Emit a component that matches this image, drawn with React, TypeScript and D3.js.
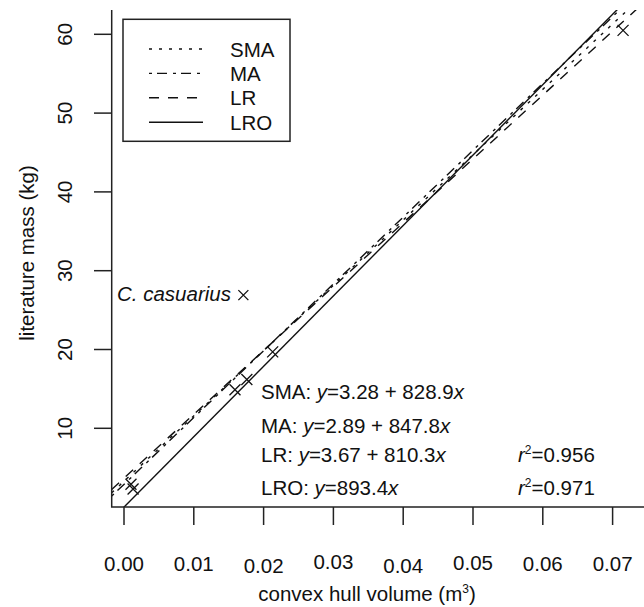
import React from "react";
import * as d3 from "d3";

const W = 644;
const H = 607;

// data
const pointX = [0.001, 0.0013, 0.0159, 0.0176, 0.0213, 0.0715];
const pointY = [2.9, 2.3, 14.9, 16.2, 19.7, 60.5];
const casuarius = { x: 0.0171, y: 26.9, label: "C. casuarius" };

const xTicks = [0, 0.01, 0.02, 0.03, 0.04, 0.05, 0.06, 0.07];
const xTickLabels = ["0.00", "0.01", "0.02", "0.03", "0.04", "0.05", "0.06", "0.07"];
const yTicks = [10, 20, 30, 40, 50, 60];

const fitNames = ["SMA", "MA", "LR", "LRO"];
const fitIntercepts = [3.28, 2.89, 3.67, 0];
const fitSlopes = [828.9, 847.8, 810.3, 893.4];
const fitDash = ["3,7", "3,5,10,6", "10,9", "none"];
const fitEq = ["3.28 + 828.9", "2.89 + 847.8", "3.67 + 810.3", "893.4"];
const fitR2 = ["", "", "0.956", "0.971"];

const FONT = "'Liberation Sans', Arial, Helvetica, sans-serif";

export default function App() {
  const left = 111.7;
  const right = 644;
  const top = 10;
  const bottom = 507;

  const x = d3.scaleLinear().domain([0, 0.07]).range([124, 612.6]);
  const y = d3.scaleLinear().domain([0, 60]).range([507.1, 34.3]);

  const x0 = x.invert(left);
  const x1 = x.invert(right);
  const line = d3
    .line<[number, number]>()
    .x((d) => x(d[0]))
    .y((d) => y(d[1]));

  const cross = (cx: number, cy: number, s = 5.5) =>
    `M${cx - s},${cy - s}L${cx + s},${cy + s}M${cx - s},${cy + s}L${cx + s},${cy - s}`;

  const xLabelShift = [0, 0, 2, -2, 2, -1, 0, 0];
  const fs = 20.5;

  return (
    <svg width={W} height={H} style={{ display: "block", position: "absolute", left: 0, top: 0 }} fontFamily={FONT}>
      <rect width={W} height={H} fill="#fff" />
      <defs>
        <clipPath id="plot">
          <rect x={left} y={top} width={right - left} height={bottom - top} />
        </clipPath>
      </defs>

      {/* fit lines */}
      <g clipPath="url(#plot)">
        {fitNames.map((n, i) => (
          <path
            key={n}
            d={line([
              [x0, fitIntercepts[i] + fitSlopes[i] * x0],
              [x1, fitIntercepts[i] + fitSlopes[i] * x1],
            ]) || ""}
            fill="none"
            stroke="#111"
            strokeWidth={1.4}
            strokeDasharray={fitDash[i]}
          />
        ))}
      </g>

      {/* points */}
      {pointX.map((px, i) => (
        <path key={i} d={cross(x(px), y(pointY[i]))} stroke="#111" strokeWidth={1.3} fill="none" />
      ))}
      <path d={cross(x(casuarius.x), y(casuarius.y), 5)} stroke="#111" strokeWidth={1.3} fill="none" />
      <text x={117} y={301} fontSize={fs} fontStyle="italic" fill="#111">
        {casuarius.label}
      </text>

      {/* axes: L box */}
      <path d={`M${left},${top}V${bottom}H${right}`} fill="none" stroke="#222" strokeWidth={1.5} />
      {xTicks.map((t, i) => (
        <g key={t}>
          <line x1={x(t)} x2={x(t)} y1={bottom} y2={525} stroke="#222" strokeWidth={1.5} />
          <text x={x(t)} y={571 + xLabelShift[i]} fontSize={fs} textAnchor="middle" fill="#111">
            {xTickLabels[i]}
          </text>
        </g>
      ))}
      {yTicks.map((t) => (
        <g key={t}>
          <line x1={94} x2={left} y1={y(t)} y2={y(t)} stroke="#222" strokeWidth={1.5} />
          <text transform={`translate(72,${y(t)}) rotate(-90)`} fontSize={fs} textAnchor="middle" fill="#111">
            {t}
          </text>
        </g>
      ))}

      <text x={367} y={601} fontSize={fs} textAnchor="middle" fill="#111">
        convex hull volume (m<tspan fontSize={12} dy={-8}>3</tspan>
        <tspan dy={8}>)</tspan>
      </text>
      <text transform="translate(34,253) rotate(-90)" fontSize={fs} textAnchor="middle" fill="#111">
        literature mass (kg)
      </text>

      {/* legend */}
      <rect x={123} y={19.3} width={167} height={122} fill="#fff" stroke="#222" strokeWidth={1.5} />
      {fitNames.map((n, i) => {
        const ly = 49 + i * 24.4;
        return (
          <g key={n}>
            <line x1={149} x2={203} y1={ly} y2={ly} stroke="#111" strokeWidth={1.4} strokeDasharray={fitDash[i]} />
            <text x={230} y={ly + 7.5} fontSize={fs} fill="#111">
              {n}
            </text>
          </g>
        );
      })}

      {/* equations */}
      {fitNames.map((n, i) => {
        const by = [399, 433, 462, 495][i];
        return (
          <g key={n}>
            <text x={261} y={by} fontSize={fs} fill="#111">
              {n}: <tspan fontStyle="italic">y</tspan>={fitEq[i]}
              <tspan fontStyle="italic">x</tspan>
            </text>
            {fitR2[i] && (
              <text x={518} y={by} fontSize={fs} fill="#111">
                <tspan fontStyle="italic">r</tspan>
                <tspan fontSize={12} dy={-8}>2</tspan>
                <tspan dy={8}>={fitR2[i]}</tspan>
              </text>
            )}
          </g>
        );
      })}
    </svg>
  );
}
